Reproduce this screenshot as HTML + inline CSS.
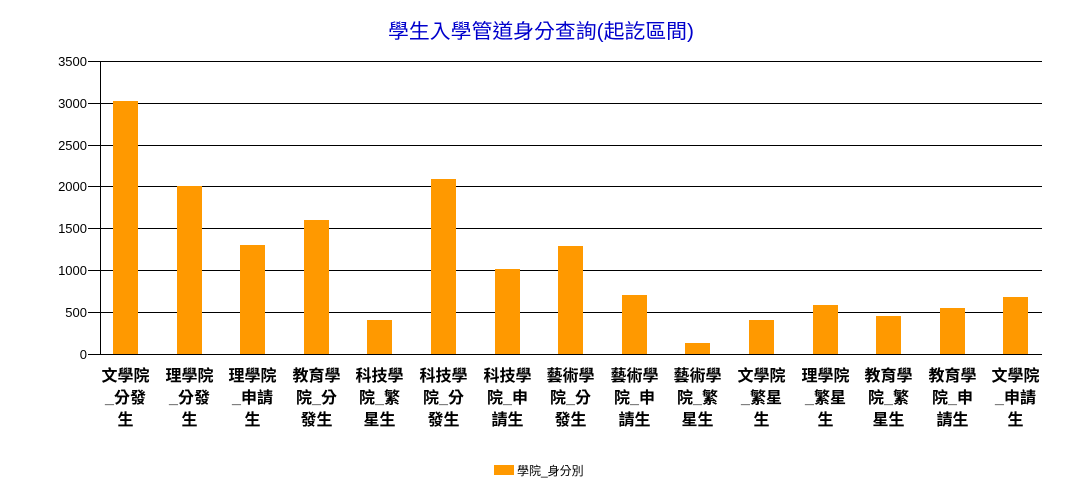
<!DOCTYPE html>
<html><head><meta charset="utf-8"><style>
body{margin:0;background:#fff;}
svg{display:block;font-family:"Liberation Sans","Noto Sans CJK TC",sans-serif;}
</style></head><body>
<svg width="1083" height="500" xmlns="http://www.w3.org/2000/svg">
<text x="541" y="38" text-anchor="middle" font-size="20" fill="#0000cc" textLength="306" lengthAdjust="spacingAndGlyphs">學生入學管道身分查詢(起訖區間)</text>
<g stroke="#000" stroke-width="1">
<line x1="88" y1="61.5" x2="1042" y2="61.5"/>
<line x1="88" y1="103.5" x2="1042" y2="103.5"/>
<line x1="88" y1="145.5" x2="1042" y2="145.5"/>
<line x1="88" y1="186.5" x2="1042" y2="186.5"/>
<line x1="88" y1="228.5" x2="1042" y2="228.5"/>
<line x1="88" y1="270.5" x2="1042" y2="270.5"/>
<line x1="88" y1="312.5" x2="1042" y2="312.5"/>
<line x1="88" y1="354.5" x2="1042" y2="354.5"/>
<line x1="100.5" y1="61" x2="100.5" y2="354"/>
</g>
<g font-size="13" text-anchor="end" fill="#000">
<text x="87" y="66">3500</text><text x="87" y="108">3000</text><text x="87" y="150">2500</text><text x="87" y="191">2000</text><text x="87" y="233">1500</text><text x="87" y="275">1000</text><text x="87" y="317">500</text><text x="87" y="359">0</text>
</g>
<g fill="#ff9900">
<rect x="113" y="101" width="25" height="253"/>
<rect x="177" y="186" width="25" height="168"/>
<rect x="240" y="245" width="25" height="109"/>
<rect x="304" y="220" width="25" height="134"/>
<rect x="367" y="320" width="25" height="34"/>
<rect x="431" y="179" width="25" height="175"/>
<rect x="495" y="269" width="25" height="85"/>
<rect x="558" y="246" width="25" height="108"/>
<rect x="622" y="295" width="25" height="59"/>
<rect x="685" y="343" width="25" height="11"/>
<rect x="749" y="320" width="25" height="34"/>
<rect x="813" y="305" width="25" height="49"/>
<rect x="876" y="316" width="25" height="38"/>
<rect x="940" y="308" width="25" height="46"/>
<rect x="1003" y="297" width="25" height="57"/>
</g>
<g font-size="16" font-weight="bold" text-anchor="middle" fill="#000">
<text x="125.5" y="381">文學院</text><text x="125.5" y="403">_分發</text><text x="125.5" y="425">生</text>
<text x="189.5" y="381">理學院</text><text x="189.5" y="403">_分發</text><text x="189.5" y="425">生</text>
<text x="252.5" y="381">理學院</text><text x="252.5" y="403">_申請</text><text x="252.5" y="425">生</text>
<text x="316.5" y="381">教育學</text><text x="316.5" y="403">院_分</text><text x="316.5" y="425">發生</text>
<text x="379.5" y="381">科技學</text><text x="379.5" y="403">院_繁</text><text x="379.5" y="425">星生</text>
<text x="443.5" y="381">科技學</text><text x="443.5" y="403">院_分</text><text x="443.5" y="425">發生</text>
<text x="507.5" y="381">科技學</text><text x="507.5" y="403">院_申</text><text x="507.5" y="425">請生</text>
<text x="570.5" y="381">藝術學</text><text x="570.5" y="403">院_分</text><text x="570.5" y="425">發生</text>
<text x="634.5" y="381">藝術學</text><text x="634.5" y="403">院_申</text><text x="634.5" y="425">請生</text>
<text x="697.5" y="381">藝術學</text><text x="697.5" y="403">院_繁</text><text x="697.5" y="425">星生</text>
<text x="761.5" y="381">文學院</text><text x="761.5" y="403">_繁星</text><text x="761.5" y="425">生</text>
<text x="825.5" y="381">理學院</text><text x="825.5" y="403">_繁星</text><text x="825.5" y="425">生</text>
<text x="888.5" y="381">教育學</text><text x="888.5" y="403">院_繁</text><text x="888.5" y="425">星生</text>
<text x="952.5" y="381">教育學</text><text x="952.5" y="403">院_申</text><text x="952.5" y="425">請生</text>
<text x="1015.5" y="381">文學院</text><text x="1015.5" y="403">_申請</text><text x="1015.5" y="425">生</text>
</g>
<rect x="494" y="465" width="20" height="10" fill="#ff9900"/>
<text x="517" y="475" font-size="12" fill="#000">學院_身分別</text>
</svg>
</body></html>
